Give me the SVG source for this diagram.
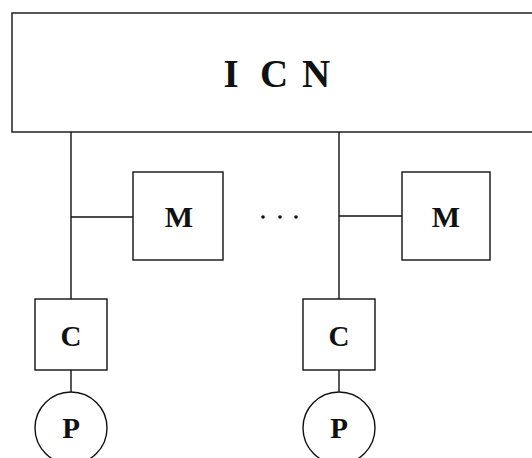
<svg xmlns="http://www.w3.org/2000/svg" width="532" height="458" viewBox="0 0 532 458">
<style>
.box{fill:#fff;stroke:#111;stroke-width:1.4}
.ln{stroke:#111;stroke-width:1.4;fill:none}
.lbl{font-family:"Liberation Serif","Times New Roman",serif;font-weight:bold;fill:#111;text-anchor:middle}
.dot{fill:#111}
</style>
<rect width="532" height="458" fill="#fff"/>
<g id="connectors">
<line class="ln" x1="71" y1="132" x2="71" y2="299"/>
<line class="ln" x1="339" y1="132" x2="339" y2="299"/>
<line class="ln" x1="71" y1="217" x2="133" y2="217"/>
<line class="ln" x1="339" y1="216" x2="402" y2="216"/>
<line class="ln" x1="71" y1="370" x2="71" y2="392"/>
<line class="ln" x1="339" y1="370" x2="339" y2="392"/>
</g>
<g id="icn">
<rect class="box" x="12" y="13" width="530" height="119"/>
<text class="lbl" font-size="39" y="87"><tspan x="231">I</tspan><tspan x="274">C</tspan><tspan x="316">N</tspan></text>
</g>
<g id="m1">
<rect class="box" x="133" y="172" width="90" height="88"/>
<text class="lbl" font-size="30" x="179" y="227">M</text>
</g>
<g id="m2">
<rect class="box" x="402" y="172" width="88" height="88"/>
<text class="lbl" font-size="30" x="446" y="227">M</text>
</g>
<g id="dots">
<circle class="dot" cx="263" cy="217" r="1.8"/>
<circle class="dot" cx="280" cy="217" r="1.8"/>
<circle class="dot" cx="296" cy="217" r="1.8"/>
</g>
<g id="c1">
<rect class="box" x="35" y="299" width="72" height="71"/>
<text class="lbl" font-size="29" x="71" y="346">C</text>
</g>
<g id="c2">
<rect class="box" x="303" y="299" width="72" height="71"/>
<text class="lbl" font-size="29" x="339" y="346">C</text>
</g>
<g id="p1">
<circle class="box" cx="71" cy="428" r="36"/>
<text class="lbl" font-size="29" x="71" y="438">P</text>
</g>
<g id="p2">
<circle class="box" cx="339" cy="428" r="36"/>
<text class="lbl" font-size="29" x="339" y="438">P</text>
</g>
</svg>
